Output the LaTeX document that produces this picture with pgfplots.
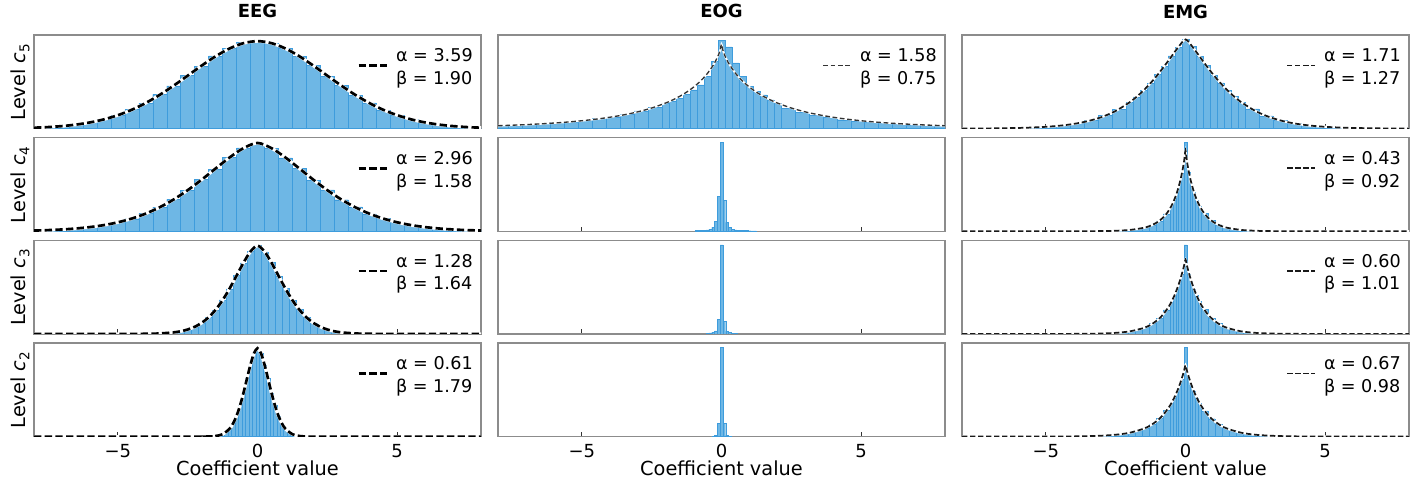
\documentclass[border=0pt]{standalone}
\usepackage{fontspec}
\setmainfont{DejaVu Sans}
\usepackage{pgfplots}
\usepackage{pgfplotstable}
\pgfplotsset{compat=1.18}

\definecolor{barfill}{RGB}{110,183,229}
\definecolor{baredge}{RGB}{62,156,220}
\definecolor{framegray}{RGB}{140,140,140}

\newcommand\tickfont{\fontsize{13.5}{16}\selectfont}
\newcommand\labfont{\fontsize{14.5}{17}\selectfont}
\newcommand\legfont{\fontsize{13.2}{17}\selectfont}
\newcommand\titfont{\fontsize{13.5}{16}\selectfont\bfseries}
\newcommand\ab[2]{\begin{tabular}{@{}l@{}}α = #1\\β = #2\end{tabular}}

\pgfplotsset{
  panel/.style={scale only axis, width=335.25pt, height=70.2pt, anchor=north west,
    xmin=-8, xmax=8, ymin=0, ytick=\empty, xtick={-5,0,5}, xticklabels={,,},
    xtick pos=left, tick align=inside, major tick length=3.5pt,
    tick style={color=black!80, line width=0.9pt},
    axis line style={draw=framegray, line width=1.1pt},
    title style={font=\titfont, anchor=base, at={(axis description cs:0.5,1)}, yshift=6.75pt},
    ylabel style={font=\labfont, anchor=base, at={([xshift=-6pt]axis description cs:0,0.5)}},
    xlabel style={font=\labfont, anchor=base, inner sep=0pt, at={(axis description cs:0.5,0)}, yshift=-29pt},
    xticklabel style={font=\tickfont, anchor=base, inner sep=0pt, yshift=-16pt},
    legend style={at={(axis description cs:1,1)}, anchor=north east, xshift=-5pt, yshift=-7pt,
      draw=none, fill=none, inner sep=0pt, font=\legfont, nodes={inner sep=1pt},
      /tikz/every odd column/.append style={column sep=5pt}},
    legend image code/.code={\draw[##1] (0pt,-4pt) -- (21pt,-4pt);},
  },
  lastrow/.style={xticklabels={−5,0,5}, xlabel={Coefficient value}},
  hist/.style={ybar interval, fill=barfill, draw=baredge, line width=0.3pt, forget plot},
  eegc/.style={black, line width=2pt, dash pattern=on 5.5pt off 2.5pt, smooth},
  eegu/.style={white, line width=2.4pt, smooth, forget plot},
  eogc/.style={black!80, line width=1pt, dash pattern=on 3.5pt off 2pt, smooth},
  eogu/.style={white, line width=1.4pt, smooth, forget plot},
  emgc/.style={black!90, line width=1.3pt, dash pattern=on 4pt off 2pt, smooth},
  emgu/.style={white, line width=1.7pt, smooth, forget plot},
}

\pgfplotstableread[row sep=\\]{x y\\
-8 0.0102\\ -7.5 0.0173\\ -7 0.0285\\ -6.5 0.0455\\ -6 0.0704\\ -5.5 0.1055\\ -5 0.1531\\ -4.5 0.2152\\ -4 0.2929\\ -3.5 0.3856\\ -3 0.4912\\ -2.5 0.6048\\ -2 0.7196\\ -1.5 0.8265\\ -1 0.9156\\ -0.5 0.9766\\ 0 1\\ 0.5 0.9766\\ 1 0.9156\\ 1.5 0.8265\\ 2 0.7196\\ 2.5 0.6048\\ 3 0.4912\\ 3.5 0.3856\\ 4 0.2929\\ 4.5 0.2152\\ 5 0.1531\\ 5.5 0.1055\\ 6 0.0704\\ 6.5 0.0455\\ 7 0.0285\\ 7.5 0.0173\\ 8 0.0102\\
}\eegFive

\pgfplotstableread[row sep=\\]{x y\\
-8 0.0081\\ -7.5 0.0130\\ -7 0.0203\\ -6.5 0.0313\\ -6 0.0472\\ -5.5 0.0698\\ -5 0.1013\\ -4.5 0.1439\\ -4 0.2000\\ -3.5 0.2717\\ -3 0.3601\\ -2.5 0.4650\\ -2 0.5838\\ -1.5 0.7106\\ -1 0.8352\\ -0.5 0.9416\\ 0 1\\ 0.5 0.9416\\ 1 0.8352\\ 1.5 0.7106\\ 2 0.5838\\ 2.5 0.4650\\ 3 0.3601\\ 3.5 0.2717\\ 4 0.2000\\ 4.5 0.1439\\ 5 0.1013\\ 5.5 0.0698\\ 6 0.0472\\ 6.5 0.0313\\ 7 0.0203\\ 7.5 0.0130\\ 8 0.0081\\
}\eegFour

\pgfplotstableread[row sep=\\]{x y\\
-8 0\\ -5 0.0001\\ -4 0.0015\\ -3.5 0.0055\\ -3 0.0176\\ -2.75 0.0301\\ -2.5 0.0499\\ -2.25 0.0803\\ -2 0.1250\\ -1.75 0.1882\\ -1.5 0.2733\\ -1.25 0.3822\\ -1 0.5132\\ -0.75 0.6596\\ -0.5 0.8073\\ -0.25 0.9336\\ 0 1\\ 0.25 0.9336\\ 0.5 0.8073\\ 0.75 0.6596\\ 1 0.5132\\ 1.25 0.3822\\ 1.5 0.2733\\ 1.75 0.1882\\ 2 0.1250\\ 2.25 0.0803\\ 2.5 0.0499\\ 2.75 0.0301\\ 3 0.0176\\ 3.5 0.0055\\ 4 0.0015\\ 5 0.0001\\ 8 0\\
}\eegThree

\pgfplotstableread[row sep=\\]{x y\\
-8 0\\ -2 0.0002\\ -1.75 0.0014\\ -1.5 0.0067\\ -1.25 0.0270\\ -1 0.0887\\ -0.875 0.1484\\ -0.75 0.2351\\ -0.625 0.3519\\ -0.5 0.4963\\ -0.375 0.6580\\ -0.25 0.8166\\ -0.125 0.9431\\ 0 1\\ 0.125 0.9431\\ 0.25 0.8166\\ 0.375 0.6580\\ 0.5 0.4963\\ 0.625 0.3519\\ 0.75 0.2351\\ 0.875 0.1484\\ 1 0.0887\\ 1.25 0.0270\\ 1.5 0.0067\\ 1.75 0.0014\\ 2 0.0002\\ 8 0\\
}\eegTwo

\pgfplotstableread[row sep=\\]{x y\\
-8 0.0342\\ -7.5 0.0401\\ -7 0.0472\\ -6.5 0.0557\\ -6 0.0658\\ -5.5 0.0782\\ -5 0.0932\\ -4.5 0.1117\\ -4 0.1344\\ -3.5 0.1627\\ -3 0.1984\\ -2.5 0.2440\\ -2 0.3032\\ -1.75 0.3397\\ -1.5 0.3822\\ -1.25 0.4322\\ -1 0.4919\\ -0.75 0.5645\\ -0.5 0.6558\\ -0.25 0.7781\\ -0.1 0.8814\\ -0.05 0.9277\\ 0 1\\ 0.05 0.9277\\ 0.1 0.8814\\ 0.25 0.7781\\ 0.5 0.6558\\ 0.75 0.5645\\ 1 0.4919\\ 1.25 0.4322\\ 1.5 0.3822\\ 1.75 0.3397\\ 2 0.3032\\ 2.5 0.2440\\ 3 0.1984\\ 3.5 0.1627\\ 4 0.1344\\ 4.5 0.1117\\ 5 0.0932\\ 5.5 0.0782\\ 6 0.0658\\ 6.5 0.0557\\ 7 0.0472\\ 7.5 0.0401\\ 8 0.0342\\
}\eogFive

\pgfplotstableread[row sep=\\]{x y\\
-8 0.0008\\ -7 0.0025\\ -6 0.0073\\ -5.5 0.0122\\ -5 0.0201\\ -4.5 0.0328\\ -4 0.0527\\ -3.5 0.0834\\ -3 0.1298\\ -2.5 0.1979\\ -2 0.2952\\ -1.75 0.3571\\ -1.5 0.4288\\ -1.25 0.5108\\ -1 0.6030\\ -0.75 0.7039\\ -0.5 0.8107\\ -0.25 0.9167\\ 0 1\\ 0.25 0.9167\\ 0.5 0.8107\\ 0.75 0.7039\\ 1 0.6030\\ 1.25 0.5108\\ 1.5 0.4288\\ 1.75 0.3571\\ 2 0.2952\\ 2.5 0.1979\\ 3 0.1298\\ 3.5 0.0834\\ 4 0.0527\\ 4.5 0.0328\\ 5 0.0201\\ 5.5 0.0122\\ 6 0.0073\\ 7 0.0025\\ 8 0.0008\\
}\emgFive

\pgfplotstableread[row sep=\\]{x y\\
-8 0\\ -4 0.0004\\ -3 0.0025\\ -2.5 0.0064\\ -2 0.0164\\ -1.5 0.0426\\ -1.25 0.0693\\ -1 0.1138\\ -0.8 0.1703\\ -0.7 0.2089\\ -0.6 0.2570\\ -0.5 0.3170\\ -0.4 0.3923\\ -0.3 0.4877\\ -0.2 0.6099\\ -0.15 0.6842\\ -0.1 0.7700\\ -0.05 0.8710\\ 0 1\\ 0.05 0.8710\\ 0.1 0.7700\\ 0.15 0.6842\\ 0.2 0.6099\\ 0.3 0.4877\\ 0.4 0.3923\\ 0.5 0.3170\\ 0.6 0.2570\\ 0.7 0.2089\\ 0.8 0.1703\\ 1 0.1138\\ 1.25 0.0693\\ 1.5 0.0426\\ 2 0.0164\\ 2.5 0.0064\\ 3 0.0025\\ 4 0.0004\\ 8 0\\
}\emgFour

\pgfplotstableread[row sep=\\]{x y\\
-8 0\\ -5 0.0002\\ -4 0.0011\\ -3.5 0.0026\\ -3 0.0062\\ -2.5 0.0146\\ -2 0.0343\\ -1.5 0.0802\\ -1.25 0.1226\\ -1 0.1873\\ -0.8 0.2626\\ -0.6 0.3679\\ -0.5 0.4353\\ -0.4 0.5148\\ -0.3 0.6086\\ -0.2 0.7192\\ -0.1 0.8490\\ -0.05 0.9219\\ 0 1\\ 0.05 0.9219\\ 0.1 0.8490\\ 0.2 0.7192\\ 0.3 0.6086\\ 0.4 0.5148\\ 0.5 0.4353\\ 0.6 0.3679\\ 0.8 0.2626\\ 1 0.1873\\ 1.25 0.1226\\ 1.5 0.0802\\ 2 0.0343\\ 2.5 0.0146\\ 3 0.0062\\ 3.5 0.0026\\ 4 0.0011\\ 5 0.0002\\ 8 0\\
}\emgThree

\pgfplotstableread[row sep=\\]{x y\\
-8 0\\ -6 0.0002\\ -5 0.0008\\ -4 0.0032\\ -3.5 0.0064\\ -3 0.0130\\ -2.5 0.0264\\ -2 0.0539\\ -1.5 0.1105\\ -1.25 0.1584\\ -1 0.2275\\ -0.8 0.3043\\ -0.6 0.4076\\ -0.5 0.4721\\ -0.4 0.5471\\ -0.3 0.6345\\ -0.2 0.7365\\ -0.1 0.8564\\ -0.05 0.9244\\ 0 1\\ 0.05 0.9244\\ 0.1 0.8564\\ 0.2 0.7365\\ 0.3 0.6345\\ 0.4 0.5471\\ 0.5 0.4721\\ 0.6 0.4076\\ 0.8 0.3043\\ 1 0.2275\\ 1.25 0.1584\\ 1.5 0.1105\\ 2 0.0539\\ 2.5 0.0264\\ 3 0.0130\\ 3.5 0.0064\\ 4 0.0032\\ 5 0.0008\\ 6 0.0002\\ 8 0\\
}\emgTwo

\begin{document}
\begin{tikzpicture}
\useasboundingbox (0,0) rectangle (1062pt,-363.75pt);

% ================= EEG column =================
\begin{axis}[panel, at={(25.5pt,-26.25pt)}, ymax=1.07, title={EEG},
  ylabel={Level \textit{c}\textsubscript{5}}]
\addplot[hist] coordinates {(-8.25,0.011) (-7.75,0.018) (-7.25,0.030) (-6.75,0.047) (-6.25,0.072) (-5.75,0.108) (-5.25,0.150) (-4.75,0.218) (-4.25,0.290) (-3.75,0.392) (-3.25,0.488) (-2.75,0.610) (-2.25,0.715) (-1.75,0.830) (-1.25,0.915) (-0.75,0.985) (-0.25,1.0) (0.25,0.975) (0.75,0.92) (1.25,0.822) (1.75,0.72) (2.25,0.600) (2.75,0.495) (3.25,0.383) (3.75,0.295) (4.25,0.212) (4.75,0.155) (5.25,0.104) (5.75,0.071) (6.25,0.045) (6.75,0.028) (7.25,0.017) (7.75,0.010) (8.25,0)};
\addplot[eegu] table {\eegFive};
\addplot[eegc] table {\eegFive};
\addlegendentry{\ab{3.59}{1.90}}
\end{axis}

\begin{axis}[panel, at={(25.5pt,-103.25pt)}, ymax=1.06,
  ylabel={Level \textit{c}\textsubscript{4}}]
\addplot[hist] coordinates {(-8.25,0.008) (-7.75,0.013) (-7.25,0.021) (-6.75,0.030) (-6.25,0.048) (-5.75,0.068) (-5.25,0.103) (-4.75,0.142) (-4.25,0.202) (-3.75,0.270) (-3.25,0.362) (-2.75,0.462) (-2.25,0.588) (-1.75,0.705) (-1.25,0.838) (-0.75,0.945) (-0.25,1.0) (0.25,0.940) (0.75,0.832) (1.25,0.715) (1.75,0.580) (2.25,0.468) (2.75,0.357) (3.25,0.275) (3.75,0.198) (4.25,0.146) (4.75,0.100) (5.25,0.071) (5.75,0.046) (6.25,0.032) (6.75,0.019) (7.25,0.013) (7.75,0.008) (8.25,0)};
\addplot[eegu] table {\eegFour};
\addplot[eegc] table {\eegFour};
\addlegendentry{\ab{2.96}{1.58}}
\end{axis}

\begin{axis}[panel, at={(25.5pt,-180.25pt)}, ymax=1.06,
  ylabel={Level \textit{c}\textsubscript{3}}]
\addplot[hist] coordinates {(-4.125,0.0015) (-3.875,0.003) (-3.625,0.0055) (-3.375,0.010) (-3.125,0.018) (-2.875,0.031) (-2.625,0.049) (-2.375,0.081) (-2.125,0.124) (-1.875,0.190) (-1.625,0.270) (-1.375,0.385) (-1.125,0.510) (-0.875,0.662) (-0.625,0.805) (-0.375,0.938) (-0.125,1.0) (0.125,0.930) (0.375,0.810) (0.625,0.655) (0.875,0.515) (1.125,0.379) (1.375,0.275) (1.625,0.186) (1.875,0.126) (2.125,0.079) (2.375,0.051) (2.625,0.030) (2.875,0.017) (3.125,0.010) (3.375,0.0055) (3.625,0.003) (3.875,0.0015) (4.125,0)};
\addplot[eegu] table {\eegThree};
\addplot[eegc] table {\eegThree};
\addlegendentry{\ab{1.28}{1.64}}
\end{axis}

\begin{axis}[panel, lastrow, at={(25.5pt,-257.25pt)}, ymax=1.06,
  ylabel={Level \textit{c}\textsubscript{2}}]
\addplot[hist] coordinates {(-1.8125,0.0014) (-1.6875,0.003) (-1.5625,0.0067) (-1.4375,0.014) (-1.3125,0.027) (-1.1875,0.050) (-1.0625,0.089) (-0.9375,0.148) (-0.8125,0.235) (-0.6875,0.352) (-0.5625,0.496) (-0.4375,0.658) (-0.3125,0.817) (-0.1875,0.943) (-0.0625,0.99) (0.0625,0.945) (0.1875,0.812) (0.3125,0.660) (0.4375,0.492) (0.5625,0.355) (0.6875,0.232) (0.8125,0.150) (0.9375,0.088) (1.0625,0.050) (1.1875,0.027) (1.3125,0.014) (1.4375,0.0067) (1.5625,0.003) (1.6875,0.0014) (1.8125,0)};
\addplot[eegu] table {\eegTwo};
\addplot[eegc] table {\eegTwo};
\addlegendentry{\ab{0.61}{1.79}}
\end{axis}

% ================= EOG column =================
\begin{axis}[panel, at={(373.5pt,-26.25pt)}, ymax=1.11, title={EOG}]
\addplot[hist] coordinates {(-8.125,0.04) (-7.625,0.045) (-7.125,0.05) (-6.625,0.06) (-6.125,0.07) (-5.625,0.08) (-5.125,0.10) (-4.625,0.12) (-4.125,0.14) (-3.625,0.17) (-3.125,0.21) (-2.625,0.25) (-2.125,0.30) (-1.875,0.33) (-1.625,0.36) (-1.375,0.41) (-1.125,0.46) (-0.875,0.52) (-0.625,0.62) (-0.375,0.80) (-0.125,1.05) (0.125,0.97) (0.375,0.78) (0.625,0.62) (0.875,0.50) (1.125,0.44) (1.375,0.40) (1.625,0.34) (1.875,0.30) (2.125,0.24) (2.625,0.19) (3.125,0.16) (3.625,0.13) (4.125,0.105) (4.625,0.085) (5.125,0.07) (5.625,0.06) (6.125,0.05) (6.625,0.045) (7.125,0.04) (7.625,0.035) (8.125,0)};
\addplot[eogu] table {\eogFive};
\addplot[eogc] table {\eogFive};
\addlegendentry{\ab{1.58}{0.75}}
\end{axis}

\begin{axis}[panel, at={(373.5pt,-103.25pt)}, ymax=1.05]
\addplot[hist] coordinates {(-0.95,0.008) (-0.85,0.008) (-0.75,0.010) (-0.65,0.012) (-0.55,0.015) (-0.45,0.025) (-0.35,0.045) (-0.25,0.11) (-0.15,0.39) (-0.05,1.0) (0.05,0.35) (0.15,0.10) (0.25,0.045) (0.35,0.025) (0.45,0.015) (0.55,0.012) (0.65,0.010) (0.75,0.008) (0.85,0.008) (0.95,0.006) (1.05,0.005) (1.15,0.005) (1.25,0)};
\end{axis}

\begin{axis}[panel, at={(373.5pt,-180.25pt)}, ymax=1.05]
\addplot[hist] coordinates {(-0.55,0.010) (-0.45,0.012) (-0.35,0.018) (-0.25,0.035) (-0.15,0.16) (-0.05,1.0) (0.05,0.14) (0.15,0.03) (0.25,0.015) (0.35,0.010) (0.45,0.008) (0.55,0)};
\end{axis}

\begin{axis}[panel, lastrow, at={(373.5pt,-257.25pt)}, ymax=1.05]
\addplot[hist] coordinates {(-0.35,0.004) (-0.25,0.015) (-0.15,0.15) (-0.05,1.0) (0.05,0.15) (0.15,0.015) (0.25,0.004) (0.35,0)};
\end{axis}

% ================= EMG column =================
\begin{axis}[panel, at={(721.5pt,-26.25pt)}, ymax=1.05, title={EMG}]
\addplot[hist] coordinates {(-8.125,0.001) (-7.625,0.002) (-7.125,0.003) (-6.625,0.005) (-6.125,0.009) (-5.625,0.014) (-5.125,0.023) (-4.625,0.037) (-4.125,0.060) (-3.625,0.092) (-3.125,0.146) (-2.625,0.218) (-2.125,0.296) (-1.875,0.355) (-1.625,0.430) (-1.375,0.508) (-1.125,0.605) (-0.875,0.700) (-0.625,0.815) (-0.375,0.912) (-0.125,1.0) (0.125,0.920) (0.375,0.808) (0.625,0.706) (0.875,0.600) (1.125,0.513) (1.375,0.427) (1.625,0.358) (1.875,0.294) (2.125,0.220) (2.625,0.144) (3.125,0.094) (3.625,0.059) (4.125,0.037) (4.625,0.022) (5.125,0.014) (5.625,0.008) (6.125,0.005) (6.625,0.003) (7.125,0.002) (7.625,0.001) (8.125,0)};
\addplot[emgu] table {\emgFive};
\addplot[emgc] table {\emgFive};
\addlegendentry{\ab{1.71}{1.27}}
\end{axis}

\begin{axis}[panel, at={(721.5pt,-103.25pt)}, ymax=1.16]
\addplot[hist] coordinates {(-4.05,0.0006) (-3.55,0.0015) (-3.05,0.0037) (-2.55,0.009) (-2.05,0.019) (-1.8,0.030) (-1.55,0.049) (-1.3,0.080) (-1.05,0.130) (-0.8,0.215) (-0.55,0.31) (-0.45,0.38) (-0.35,0.47) (-0.25,0.58) (-0.15,0.72) (-0.05,1.10) (0.05,0.73) (0.15,0.59) (0.25,0.48) (0.35,0.39) (0.45,0.31) (0.55,0.22) (0.8,0.133) (1.05,0.081) (1.3,0.049) (1.55,0.031) (1.8,0.019) (2.05,0.0093) (2.55,0.0037) (3.05,0.0015) (3.55,0.0006) (4.05,0)};
\addplot[emgu] table {\emgFour};
\addplot[emgc] table {\emgFour};
\addlegendentry{\ab{0.43}{0.92}}
\end{axis}

\begin{axis}[panel, at={(721.5pt,-180.25pt)}, ymax=1.26]
\addplot[hist] coordinates {(-4.05,0.0017) (-3.55,0.0037) (-3.05,0.0087) (-2.55,0.0205) (-2.05,0.039) (-1.8,0.060) (-1.55,0.091) (-1.3,0.139) (-1.05,0.213) (-0.8,0.324) (-0.55,0.43) (-0.45,0.51) (-0.35,0.60) (-0.25,0.70) (-0.15,0.80) (-0.05,1.2) (0.05,0.81) (0.15,0.71) (0.25,0.60) (0.35,0.52) (0.45,0.44) (0.55,0.33) (0.8,0.21) (1.05,0.14) (1.3,0.091) (1.55,0.059) (1.8,0.039) (2.05,0.020) (2.55,0.0087) (3.05,0.0037) (3.55,0.0016) (4.05,0)};
\addplot[emgu] table {\emgThree};
\addplot[emgc] table {\emgThree};
\addlegendentry{\ab{0.60}{1.01}}
\end{axis}

\begin{axis}[panel, lastrow, at={(721.5pt,-257.25pt)}, ymax=1.31]
\addplot[hist] coordinates {(-6.05,0.0004) (-5.05,0.0015) (-4.05,0.0042) (-3.55,0.0085) (-3.05,0.017) (-2.55,0.035) (-2.05,0.060) (-1.8,0.086) (-1.55,0.123) (-1.3,0.176) (-1.05,0.254) (-0.8,0.365) (-0.55,0.47) (-0.45,0.54) (-0.35,0.62) (-0.25,0.71) (-0.15,0.80) (-0.05,1.25) (0.05,0.81) (0.15,0.72) (0.25,0.63) (0.35,0.54) (0.45,0.47) (0.55,0.36) (0.8,0.25) (1.05,0.176) (1.3,0.123) (1.55,0.085) (1.8,0.060) (2.05,0.035) (2.55,0.017) (3.05,0.0085) (3.55,0.0042) (4.05,0.0015) (5.05,0.0004) (6.05,0)};
\addplot[emgu] table {\emgTwo};
\addplot[emgc] table {\emgTwo};
\addlegendentry{\ab{0.67}{0.98}}
\end{axis}

\end{tikzpicture}
\end{document}
